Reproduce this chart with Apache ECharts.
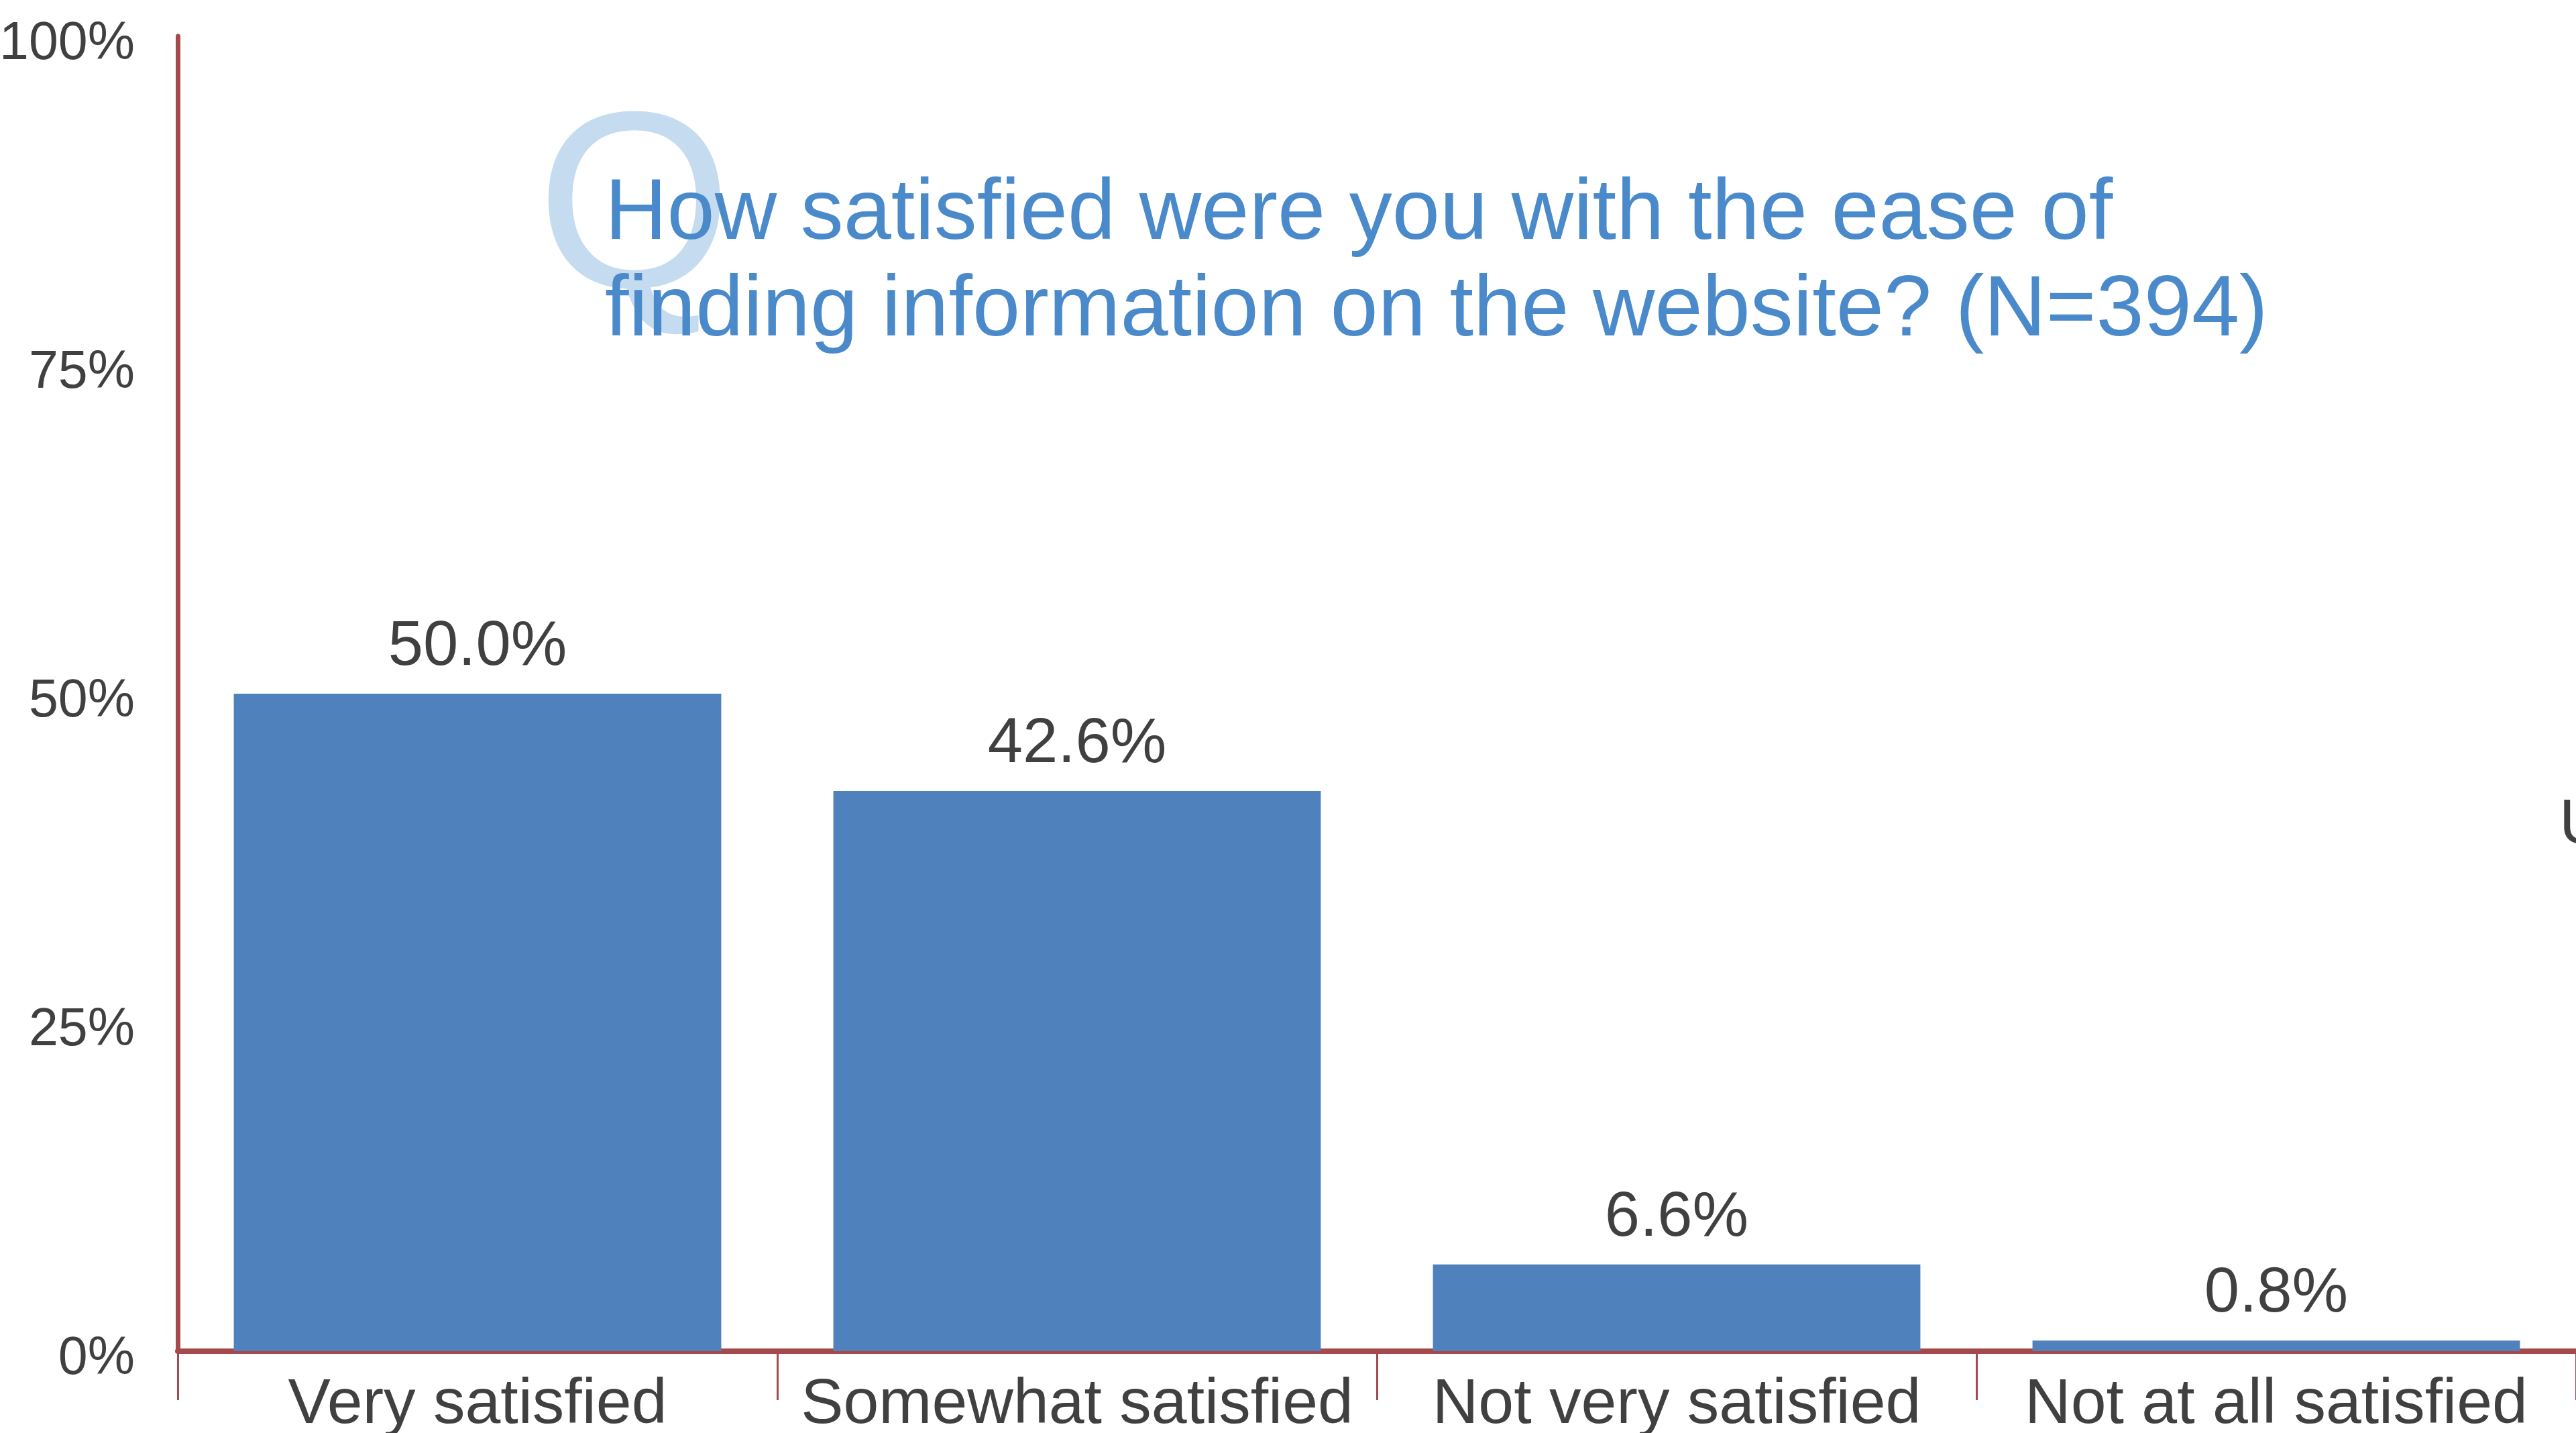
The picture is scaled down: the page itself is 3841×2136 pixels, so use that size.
<!DOCTYPE html>
<html>
<head>
<meta charset="utf-8">
<style>
  html, body { margin: 0; padding: 0; background: #ffffff; }
  #chart { width: 3841px; height: 2136px; }
</style>
<script src="https://cdn.jsdelivr.net/npm/echarts@6/dist/echarts.min.js"></script>
</head>
<body>
<div id="chart"></div>
<script>
// Survey responses: satisfaction with finding information on the website
const categories = ['Very satisfied', 'Somewhat satisfied', 'Not very satisfied', 'Not at all satisfied'];
const shares = [50.0, 42.6, 6.6, 0.8];
const yTicks = [0, 25, 50, 75, 100];
const questionText = 'How satisfied were you with the ease of\nfinding information on the website? (N=394)';

const FONT = '"Liberation Sans", Arial, Helvetica, sans-serif';
const AXIS_RED = '#a6494d';
const BAR_BLUE = '#4f81bd';
const TEXT_GREY = '#404040';

const chart = echarts.init(document.getElementById('chart'), null, { renderer: 'canvas' });

chart.setOption({
  backgroundColor: '#ffffff',
  animation: false,
  title: {
    text: questionText,
    left: 897,
    top: 244,
    z: 10,
    textStyle: {
      fontFamily: FONT,
      fontSize: 128,
      fontWeight: 'normal',
      color: '#4a8aca',
      lineHeight: 144
    }
  },
  graphic: [
    {
      // large pale "Q" behind the question text
      type: 'text',
      z: 1,
      x: 800,
      y: 324,
      style: {
        text: 'Q',
        fontFamily: FONT,
        fontSize: 375,
        fill: '#c5dbef',
        verticalAlign: 'middle'
      }
    },
    {
      type: 'text',
      z: 1,
      x: 3816,
      y: 1231,
      style: {
        text: 'U',
        fontFamily: FONT,
        fontSize: 95,
        fill: TEXT_GREY,
        verticalAlign: 'middle'
      }
    }
  ],
  grid: {
    left: 265,
    right: 0,
    top: 54,
    bottom: 122,
    containLabel: false,
    outerBoundsMode: 'none'
  },
  xAxis: {
    type: 'category',
    data: categories,
    boundaryGap: true,
    axisLine: { show: true, lineStyle: { color: AXIS_RED, width: 8 } },
    axisTick: { show: true, length: 73, lineStyle: { color: AXIS_RED, width: 3 } },
    axisLabel: {
      margin: 33,
      fontFamily: FONT,
      fontSize: 95,
      color: TEXT_GREY,
      interval: 0
    },
    splitLine: { show: false }
  },
  yAxis: {
    type: 'value',
    min: yTicks[0],
    max: yTicks[yTicks.length - 1],
    interval: 25,
    axisLine: { show: true, lineStyle: { color: AXIS_RED, width: 7 } },
    axisTick: { show: false },
    splitLine: { show: false },
    axisLabel: {
      margin: 64,
      fontFamily: FONT,
      fontSize: 79,
      color: TEXT_GREY,
      verticalAlign: 'top',
      lineHeight: 24,
      formatter: '{value}%'
    }
  },
  series: [
    {
      type: 'bar',
      data: shares,
      barWidth: '81.3%',
      itemStyle: { color: BAR_BLUE },
      label: {
        show: true,
        position: 'top',
        distance: 22,
        fontFamily: FONT,
        fontSize: 94,
        color: TEXT_GREY,
        formatter: p => p.value.toFixed(1) + '%'
      }
    }
  ]
});
</script>
</body>
</html>
